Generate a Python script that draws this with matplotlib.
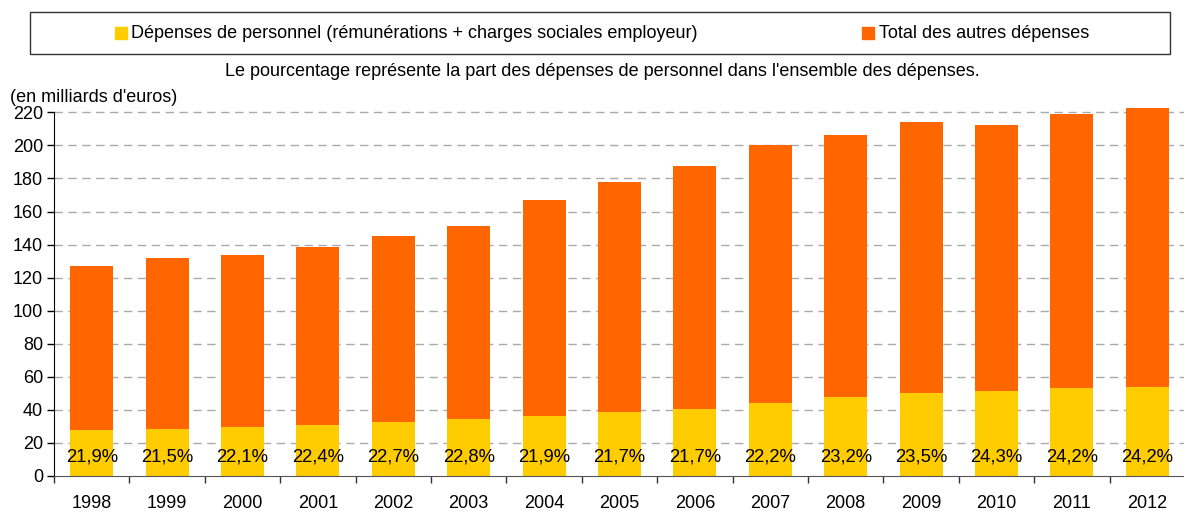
import matplotlib
matplotlib.use("Agg")
import matplotlib.pyplot as plt
from matplotlib.patches import Rectangle
import numpy as np

plt.rcParams['font.family'] = ['Liberation Sans', 'DejaVu Sans']

years = ['1998', '1999', '2000', '2001', '2002', '2003', '2004', '2005',
         '2006', '2007', '2008', '2009', '2010', '2011', '2012']
personnel = [27.8, 28.4, 29.2, 30.9, 32.8, 34.4, 36.4, 38.6,
             40.6, 44.3, 47.8, 50.2, 51.5, 52.9, 54.0]
totals = [127.0, 132.0, 133.7, 138.5, 145.2, 151.2, 167.0, 177.9,
          187.6, 200.3, 206.4, 214.2, 212.4, 219.1, 222.7]
others = [t - p for t, p in zip(totals, personnel)]
pct_labels = ['21,9%', '21,5%', '22,1%', '22,4%', '22,7%', '22,8%', '21,9%', '21,7%',
              '21,7%', '22,2%', '23,2%', '23,5%', '24,3%', '24,2%', '24,2%']

YELLOW = '#FFCC00'
ORANGE = '#FF6600'
FS = 13

W, H = 1184, 511
fig = plt.figure(figsize=(W / 100, H / 100), dpi=100)

x0, x1 = 54, 1185
y_bot, y_top = 475.7, 104.2
ax = fig.add_axes([x0 / W, 1 - y_bot / H, (x1 - x0) / W, (y_bot - y_top) / H])

x = np.arange(len(years))
bw = 0.57
ax.bar(x, personnel, bw, color=YELLOW, zorder=3,
       label='Dépenses de personnel (rémunérations + charges sociales employeur)')
ax.bar(x, others, bw, bottom=personnel, color=ORANGE, zorder=3,
       label='Total des autres dépenses')

for xi, lab in zip(x, pct_labels):
    ax.text(xi, 11.5, lab, ha='center', va='center', fontsize=13.3, color='black', zorder=4)

ax.set_xlim(-0.5, len(years) - 0.5)
ax.set_ylim(0, 225)
ax.set_yticks(np.arange(0, 221, 20))
ax.tick_params(axis='y', labelsize=FS, length=5, width=1, direction='out', pad=3)
ax.set_xticks(x)
ax.set_xticklabels(years)
ax.tick_params(axis='x', which='major', length=0, labelsize=FS, pad=14)
ax.set_xticks(np.arange(-0.5, len(years), 1), minor=True)
ax.tick_params(axis='x', which='minor', length=5, width=1, color='#333333', direction='out')

for yv in np.arange(20, 221, 20):
    ax.axhline(yv, color='#AAAAAA', lw=1, ls=(0, (6, 4)), zorder=1)

ax.spines['top'].set_visible(False)
ax.spines['right'].set_visible(False)
ax.spines['left'].set_bounds(0, 220)
ax.spines['left'].set_color('black')
ax.spines['bottom'].set_color('#555555')
ax.spines['left'].set_zorder(5)
ax.spines['bottom'].set_zorder(5)

# Legend box
fig.patches.append(Rectangle((30 / W, 1 - 54 / H), (1170 - 30) / W, 42 / H,
                             transform=fig.transFigure, fill=False,
                             edgecolor='#333333', lw=1))
leg_y = 1 - 33 / H
sq = 12
fig.patches.append(Rectangle((115 / W, leg_y - (sq / 2) / H), sq / W, sq / H,
                             transform=fig.transFigure, color=YELLOW))
fig.text(131 / W, leg_y, 'Dépenses de personnel (rémunérations + charges sociales employeur)',
         fontsize=FS, va='center', ha='left')
fig.patches.append(Rectangle((862 / W, leg_y - (sq / 2) / H), sq / W, sq / H,
                             transform=fig.transFigure, color=ORANGE))
fig.text(879 / W, leg_y, 'Total des autres dépenses', fontsize=FS, va='center', ha='left')

fig.text(602.5 / W, 1 - 71 / H,
         "Le pourcentage représente la part des dépenses de personnel dans l'ensemble des dépenses.",
         fontsize=FS, ha='center', va='center')
fig.text(10 / W, 1 - 98 / H, "(en milliards d'euros)", fontsize=FS, ha='left', va='center')

fig.savefig('out.png', dpi=100)
